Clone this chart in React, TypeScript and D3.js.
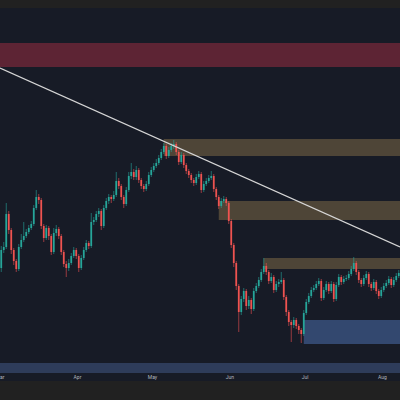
import { useEffect, useRef } from "react";
import * as d3 from "d3";

// ── Data (daily candles, price units are arbitrary) ─────────────────────────
const START = new Date(Date.UTC(2023, 2, 1));
const END = new Date(Date.UTC(2023, 7, 8));

const firstOpen = 132;
const closes = [
  150, 153, 186, 170, 150, 139, 131, 153, 160, 164, 168, 172, 176, 192, 203, 200, 174, 162, 172, 164,
  148, 167, 171, 164, 148, 136, 132, 137, 144, 150, 144, 132, 142, 150, 157, 154, 178, 180, 186, 189,
  174, 192, 199, 203, 201, 205, 219, 214, 203, 196, 210, 224, 228, 223, 230, 220, 214, 211, 216, 225,
  230, 234, 237, 242, 248, 254, 244, 250, 254, 256, 248, 238, 245, 235, 229, 225, 220, 217, 223, 226,
  210, 216, 219, 222, 224, 211, 203, 194, 199, 201, 197, 179, 155, 137, 114, 88, 101, 109, 94, 100,
  91, 109, 114, 120, 128, 134, 128, 119, 123, 110, 116, 118, 120, 103, 88, 78, 75, 80, 74, 70,
  66, 87, 98, 104, 110, 112, 116, 119, 102, 110, 116, 109, 116, 101, 115, 123, 118, 121, 122, 126,
  131, 137, 128, 120, 116, 122, 126, 116, 112, 118, 109, 104, 110, 114, 117, 121, 115, 120, 124, 127,
];
const highs = [
  154, 158, 197, 189, 172, 152, 141, 156, 166, 178, 171, 175, 179, 195, 210, 206, 202, 176, 175, 174,
  166, 172, 175, 173, 166, 150, 139, 141, 147, 153, 152, 146, 145, 153, 160, 159, 187, 183, 189, 192,
  191, 195, 202, 206, 205, 209, 228, 222, 216, 205, 213, 228, 237, 231, 234, 232, 222, 216, 219, 228,
  233, 237, 241, 245, 251, 257, 256, 253, 257, 260, 258, 250, 248, 247, 237, 231, 227, 222, 226, 229,
  228, 219, 222, 225, 229, 226, 213, 205, 202, 204, 203, 199, 181, 157, 139, 116, 104, 112, 111, 104,
  102, 112, 117, 123, 131, 142, 137, 130, 127, 125, 119, 121, 128, 122, 105, 90, 80, 83, 82, 76,
  72, 90, 101, 107, 113, 115, 119, 122, 121, 113, 119, 118, 119, 118, 118, 126, 125, 124, 125, 129,
  134, 143, 139, 130, 122, 125, 129, 128, 118, 121, 120, 111, 113, 117, 120, 124, 123, 123, 127, 130,
];
const lows = [
  128, 147, 151, 166, 146, 135, 128, 129, 151, 158, 162, 166, 170, 174, 190, 196, 171, 158, 160, 160,
  145, 146, 164, 161, 145, 133, 123, 129, 135, 142, 141, 128, 130, 140, 148, 151, 152, 175, 178, 183,
  170, 172, 190, 196, 197, 199, 203, 211, 200, 192, 194, 208, 221, 220, 220, 217, 211, 208, 209, 214,
  223, 228, 232, 235, 240, 246, 241, 242, 248, 251, 245, 235, 236, 232, 226, 222, 217, 214, 215, 221,
  207, 208, 214, 217, 220, 208, 200, 191, 192, 197, 194, 176, 152, 133, 110, 68, 85, 98, 90, 91,
  86, 89, 107, 112, 118, 126, 125, 116, 117, 107, 108, 113, 116, 100, 84, 74, 58, 72, 71, 66,
  57, 64, 85, 96, 102, 108, 110, 114, 99, 100, 108, 106, 107, 98, 99, 113, 115, 116, 119, 120,
  124, 129, 125, 117, 113, 114, 120, 113, 109, 110, 106, 101, 102, 108, 112, 115, 112, 113, 118, 122,
];

// horizontal zones: start candle (index), top and bottom price
const zoneStarts = [65, 87, 105, 121];
const zoneTops = [261, 199, 142, 80];
const zoneBottoms = [244, 180, 131, 56];
const zoneColors = ["#4e4537", "#4e4537", "#4e4537", "#33486f"];

// full-width bands
const bandTops = [357, 37];
const bandBottoms = [333, 27];
const bandColors = ["#5d2434", "#2e3c5a"];

// trendline end points
const trendDates = [START, END];
const trendPrices = [332, 153];

const monthLabels = ["Mar", "Apr", "May", "Jun", "Jul", "Aug"];

const W = 400;
const H = 400;
const TOP = 8;
const BOTTOM = 381;

export default function App() {
  const svgRef = useRef<SVGSVGElement>(null);

  useEffect(() => {
    if (!svgRef.current) return;
    const svg = d3.select(svgRef.current);
    svg.selectAll("*").remove();

    const x = d3.scaleUtc().domain([START, END]).range([0, W]);
    const y = d3.scaleLinear().domain([19, 392]).range([BOTTOM, TOP]);
    const days = closes.map((_, i) => d3.utcDay.offset(START, i));
    const step = x(days[1]) - x(days[0]);
    const cx = (i: number) => x(days[i]) + step / 2;

    svg.append("rect").attr("width", W).attr("height", H).attr("fill", "#212121");
    svg.append("rect").attr("y", TOP).attr("width", W).attr("height", BOTTOM - TOP).attr("fill", "#171b26");

    svg.append("defs").append("clipPath").attr("id", "plot")
      .append("rect").attr("y", TOP).attr("width", W).attr("height", BOTTOM - TOP);
    const g = svg.append("g").attr("clip-path", "url(#plot)");

    // ── bands ──
    bandTops.forEach((t, k) => {
      g.append("rect")
        .attr("x", 0).attr("width", W)
        .attr("y", y(t)).attr("height", y(bandBottoms[k]) - y(t))
        .attr("fill", bandColors[k]);
    });

    // ── zones ──
    zoneStarts.forEach((s, k) => {
      g.append("rect")
        .attr("x", cx(s)).attr("width", W - cx(s))
        .attr("y", y(zoneTops[k])).attr("height", y(zoneBottoms[k]) - y(zoneTops[k]))
        .attr("fill", zoneColors[k]);
    });

    // ── candles ──
    const opens = closes.map((_, i) => (i === 0 ? firstOpen : closes[i - 1]));
    const up = "#26a69a";
    const down = "#ef5350";
    const bw = step * 0.7;
    closes.forEach((c, i) => {
      const o = opens[i];
      const col = c >= o ? up : down;
      g.append("line")
        .attr("x1", cx(i)).attr("x2", cx(i))
        .attr("y1", y(highs[i])).attr("y2", y(lows[i]))
        .attr("stroke", col).attr("stroke-width", 0.6);
      const top = y(Math.max(o, c));
      g.append("rect")
        .attr("x", cx(i) - bw / 2).attr("width", bw)
        .attr("y", top).attr("height", Math.max(0.8, y(Math.min(o, c)) - top))
        .attr("fill", col);
    });

    // ── trendline ──
    g.append("line")
      .attr("x1", x(trendDates[0])).attr("y1", y(trendPrices[0]))
      .attr("x2", x(trendDates[1])).attr("y2", y(trendPrices[1]))
      .attr("stroke", "#d6d6d6").attr("stroke-width", 1.2);

    // ── x axis labels ──
    const months = d3.utcMonth.range(START, END);
    svg.append("g")
      .selectAll("text")
      .data(months)
      .join("text")
      .attr("x", (d) => x(d))
      .attr("y", 379)
      .attr("text-anchor", "middle")
      .attr("font-family", "Roboto, 'Noto Sans', sans-serif")
      .attr("font-size", 5)
      .attr("fill", "#b2b5be")
      .text((_, i) => monthLabels[i]);
  }, []);

  return (
    <div style={{ position: "fixed", left: 0, top: 0, width: W, height: H }}>
      <svg ref={svgRef} width={W} height={H} style={{ display: "block" }} />
    </div>
  );
}
